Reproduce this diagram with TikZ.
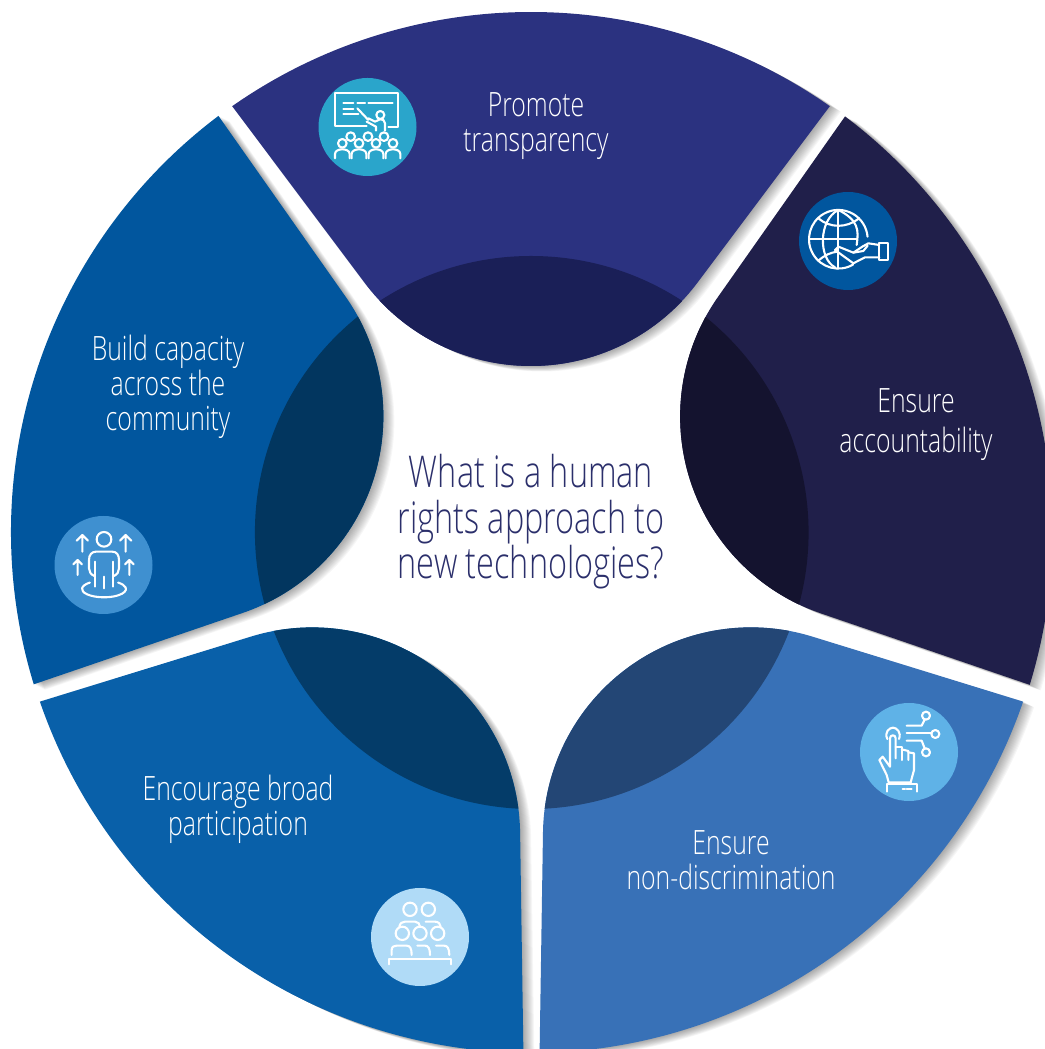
\documentclass[tikz,border=0pt]{standalone}
\usepackage{fontspec}
\setmainfont{Open Sans Light}[FakeStretch=0.74]
\definecolor{segA}{HTML}{2B3280}\definecolor{lensA}{HTML}{1A1F57}
\definecolor{segB}{HTML}{201F4A}\definecolor{lensB}{HTML}{14132F}
\definecolor{segC}{HTML}{3871B7}\definecolor{lensC}{HTML}{234675}
\definecolor{segD}{HTML}{0960A9}\definecolor{lensD}{HTML}{043C69}
\definecolor{segE}{HTML}{01569E}\definecolor{lensE}{HTML}{02365F}
\definecolor{discA}{HTML}{2AA5CB}\definecolor{discB}{HTML}{01569E}
\definecolor{discC}{HTML}{5FB2E7}\definecolor{discD}{HTML}{B0DBF7}
\definecolor{discE}{HTML}{3F90D0}\definecolor{midtext}{HTML}{2B2F6B}
\def\segshape{(125:521) arc[start angle=125,end angle=55,radius=521] -- (166.5,250.4) arc[start angle=-36.8,end angle=-143.2,radius=208] -- cycle}
\tikzset{
  disc/.style={circle,minimum size=98pt,inner sep=0pt,fill=#1},
  seglabel/.style={text=white,align=center,inner sep=0pt,font=\fontsize{33.5}{35}\selectfont},
  midlabel/.style={text=midtext,align=center,inner sep=0pt,font=\fontsize{43.8}{45.5}\selectfont},
  iconline/.style={draw=white,line width=2.1pt,line cap=round,line join=round},
  icon/.style={x=0.3333pt,y=-0.3333pt,iconline}
}
\begin{document}
\begin{tikzpicture}[x=1pt,y=1pt]
\useasboundingbox (0,0) rectangle (1044,1049);
% soft shadows
\foreach \r/\dx/\dy in {0/1/-1,-72/1.5/-0.5,-144/0.5/0,-216/2.5/0,-288/2/0}{
  \foreach \i in {1,...,11}{
    \fill[black,opacity=0.035,shift={(530+\dx+\i,517+\dy-0.5*\i)},rotate=\r] \segshape;
  }
}
% segments with their darker lens
\foreach \r/\dx/\dy/\s/\l in {0/1/-1/segA/lensA,-72/1.5/-0.5/segB/lensB,-144/0.5/0/segC/lensC,-216/2.5/0/segD/lensD,-288/2/0/segE/lensE}{
  \begin{scope}[shift={(530+\dx,517+\dy)},rotate=\r]
    \fill[\s] \segshape;
    \clip \segshape;
    \fill[\l] (0,0) circle[radius=277];
  \end{scope}
}
% discs
\node[disc=discA] (d1) at (367.5,922) {};
\node[disc=discB] (d2) at (848,808) {};
\node[disc=discC] (d3) at (909,297) {};
\node[disc=discD] (d4) at (420,112) {};
\node[disc=discE] (d5) at (103.5,484) {};
% labels
\node[seglabel] (t1) at (536,922.5) {Promote\\transparency};
\node[seglabel,font=\fontsize{33.5}{40}\selectfont] (t2) at (916,624.5) {Ensure\\accountability};
\node[seglabel] (t3) at (731,189) {Ensure\\non-discrimination};
\node[seglabel] (t4) at (238,240) {Encourage broad\\participation};
\node[seglabel] (t5) at (168,662.5) {Build capacity\\across the\\community};
\node[midlabel] (t0) at (531,527) {What is a human\\rights approach to\\new technologies?};
% icon: teacher
\begin{scope}[shift={(300,989)},icon]
  \draw (200,197) -- (106,197) -- (106,100) -- (295,100) -- (295,200) -- (265,200);
  \draw (130,130) -- (160,130) (172,130) -- (195,130) (205,130) -- (278,130) (130,147) -- (160,147) (130,163) -- (175,163);
  \draw (172,145) -- (205,180);
  \draw (241,165) circle[radius=12];
  \draw (205,175) -- (225,185) -- (240,178) -- (250,180) -- (255,190) -- (255,212);
  \draw (200,185) -- (228,200) -- (228,212);
  \foreach \x in {152,204,252} \draw (\x,230) circle[radius=13];
  \foreach \x in {127,177,228,279}{
    \draw (\x,250) circle[radius=13];
    \draw (\x-22,295) -- (\x-22,282) .. controls (\x-22,272) and (\x-10,268) .. (\x,268) .. controls (\x+10,268) and (\x+22,272) .. (\x+22,282) -- (\x+22,295);
  }
\end{scope}
% icon: globe in hand
\begin{scope}[shift={(785,869)},icon]
  \draw (204,254) arc[start angle=60,end angle=355,radius=88];
  \draw (160,90) -- (160,266) (72,178) -- (215,178);
  \draw (160,90) .. controls (100,120) and (100,236) .. (150,262);
  \draw (160,90) .. controls (220,120) and (222,150) .. (215,195);
  \draw (100,115) .. controls (135,145) and (185,145) .. (222,115);
  \draw (100,242) .. controls (120,225) and (135,218) .. (158,215);
  \draw (283,188) rectangle (310,240);
  \draw (283,195) -- (250,190) -- (232,200) -- (205,218) -- (160,200) -- (150,210) -- (205,250) -- (240,232) -- (283,232);
  \draw (205,218) -- (235,213) -- (248,197);
\end{scope}
% icon: person with arrows
\begin{scope}[shift={(40,544)},icon]
  \draw (192,103) circle[radius=22];
  \draw (163,213) .. controls (152,208) and (147,200) .. (147,190) -- (147,165) .. controls (147,150) and (155,140) .. (168,140) -- (217,140) .. controls (230,140) and (237,150) .. (237,165) -- (237,190) .. controls (237,200) and (232,208) .. (222,213);
  \draw (165,170) -- (165,245) (220,170) -- (220,245) (192,215) -- (192,250);
  \draw (149.6,232.8) arc[start angle=230,end angle=-50,x radius=66,y radius=25];
  \draw (127,140) -- (127,90) (110,107) -- (127,90) -- (144,107);
  \draw (257,140) -- (257,90) (240,107) -- (257,90) -- (274,107);
  \draw (113,210) -- (113,165) (100,178) -- (113,165) -- (126,178);
  \draw (268,210) -- (268,165) (255,178) -- (268,165) -- (281,178);
\end{scope}
% icon: audience
\begin{scope}[shift={(360,169)},icon]
  \foreach \x in {150,205} \draw (\x,88) circle[radius=20];
  \foreach \x in {127,180,233} \draw (\x,160) circle[radius=20];
  \draw (118,140) .. controls (120,130) and (126,125) .. (135,125) -- (165,125) .. controls (174,125) and (180,132) .. (180,140);
  \draw (197,125) -- (225,125) .. controls (235,125) and (242,132) .. (242,140);
  \draw (95,225) -- (95,210) .. controls (95,200) and (102,197) .. (110,197) -- (140,197) .. controls (150,197) and (155,205) .. (155,225);
  \draw (172,197) -- (195,197) .. controls (205,197) and (210,205) .. (210,225);
  \draw (228,197) -- (252,197) .. controls (262,197) and (268,205) .. (268,225);
  \draw (88,253) -- (88,238) -- (272,238) -- (272,253);
\end{scope}
% icon: touch hand
\begin{scope}[shift={(850,354)},icon]
  \draw (170,92) -- (215,92) -- (224,74);
  \draw (228,62) circle[radius=12];
  \draw (170,115) -- (244,115);
  \draw (256,117) circle[radius=12];
  \draw (170,137) -- (215,137) -- (224,160);
  \draw (228,172) circle[radius=12];
  \draw (112,132) .. controls (102,112) and (118,98) .. (129,98) .. controls (140,98) and (155,112) .. (147,132);
  \draw (120,215) -- (120,130) .. controls (120,118) and (137,118) .. (137,130) -- (137,190);
  \draw (137,155) -- (155,155) -- (155,195);
  \draw (155,163) -- (175,168) -- (175,195);
  \draw (175,172) -- (192,175) -- (192,225) -- (182,262);
  \draw (120,215) -- (98,185) -- (88,195) -- (110,240) -- (116,262) -- (182,262);
  \draw (110,290) -- (110,267) -- (200,267) -- (200,290);
  \draw (158,283) -- (165,283) (170,283) -- (185,283);
\end{scope}
\end{tikzpicture}
\end{document}
